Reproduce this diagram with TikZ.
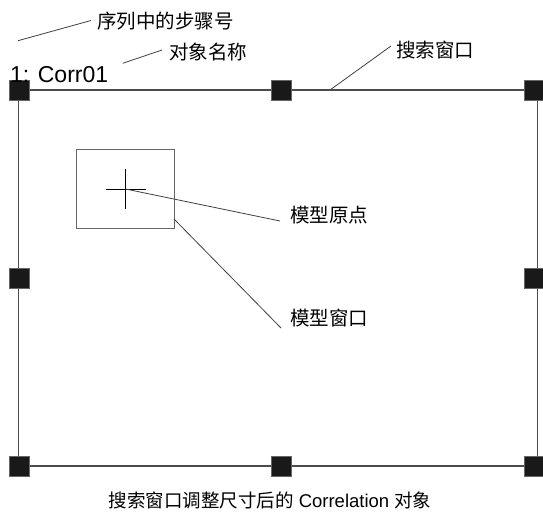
\documentclass[tikz,border=0pt]{standalone}
\usepackage{fontspec}
\setmainfont{Liberation Sans}
\newfontfamily\cjk{Noto Sans CJK SC}
\begin{document}
\begin{tikzpicture}[x=1pt,y=-1pt,
  frame/.style={draw=black!70,line width=1.2pt},
  handle/.style={fill=black!90,draw=black!60,line width=0.4pt,minimum size=20pt,inner sep=0pt,outer sep=0pt},
  leader/.style={draw=black!75,line width=0.8pt},
  lab/.style={font=\cjk\fontsize{19.5}{21}\selectfont,inner sep=0pt,anchor=west,text=black},
  ]
\useasboundingbox (0,0) rectangle (543,511);
% search window
\coordinate (tl) at (18.5,90);
\coordinate (tr) at (537.5,90);
\coordinate (bl) at (18.5,466);
\coordinate (br) at (537.5,466);
\draw[frame] (tl) -- (tr) -- (br) -- (bl) -- cycle;
\node[handle] (h1) at (19,90) {};
\node[handle] (h2) at (281.5,90) {};
\node[handle] (h3) at (534,90) {};
\node[handle] (h4) at (19,278) {};
\node[handle] (h6) at (534,278) {};
\node[handle] (h7) at (19,466) {};
\node[handle] (h8) at (281.5,466) {};
\node[handle] (h9) at (534,466) {};
% model window
\node[draw=black!60,line width=0.9pt,minimum width=97.5pt,minimum height=79.5pt,inner sep=0pt] (mw) at (125.5,189) {};
\coordinate (org) at (125.5,189);
\draw[black,line width=0.9pt] (105.5,189) -- (145.5,189) (125.5,169) -- (125.5,209);
% labels
\node[lab] (lseq) at (97,21.5) {序列中的步骤号};
\node[font=\fontsize{23}{25}\selectfont,inner sep=0pt,anchor=base west,text=black] (lname) at (10,82) {1: Corr01};
\node[lab] (lobj) at (169,52.5) {对象名称};
\node[lab] (lsearch) at (396,50.5) {搜索窗口};
\node[lab] (lorig) at (290,215) {模型原点};
\node[lab] (lmw) at (290,318) {模型窗口};
\node[font=\fontsize{18.5}{20}\selectfont,inner sep=0pt,text=black] (cap) at (270,500) {{\cjk 搜索窗口调整尺寸后的} Correlation {\cjk 对象}};
% leaders
\coordinate (s1) at (18,40.7);
\coordinate (o1) at (122.7,63.3);
\coordinate (w1) at (330,90);
\coordinate (mwc) at (174,219);
\draw[leader] (s1) -- ([xshift=-6pt,yshift=1pt]lseq.west);
\draw[leader] (o1) -- ([xshift=-7pt,yshift=2.5pt]lobj.west);
\draw[leader] (w1) -- ([xshift=-5pt,yshift=4.5pt]lsearch.west);
\draw[leader] (org) -- ([xshift=-10pt,yshift=-6pt]lorig.west);
\draw[leader] (mwc) -- ([xshift=-9pt,yshift=-10pt]lmw.west);
\end{tikzpicture}
\end{document}
